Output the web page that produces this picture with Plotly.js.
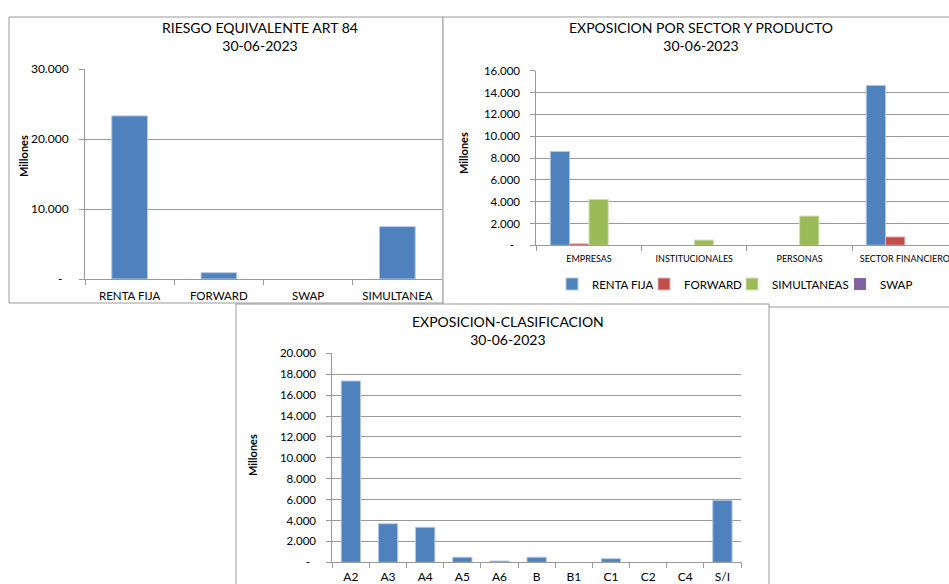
<!DOCTYPE html>
<html>
<head>
<meta charset="utf-8">
<script src="https://cdn.plot.ly/plotly-3.0.1.min.js"></script>
<style>html,body{margin:0;padding:0;background:#fff;overflow:hidden;}#chart{width:949px;height:584px;overflow:hidden;}</style>
</head>
<body>
<div id="chart"></div>
<script>
// ---- Chart 1: RIESGO EQUIVALENTE ART 84 ----
const riesgoCategories = ['RENTA FIJA', 'FORWARD', 'SWAP', 'SIMULTANEA'];
const riesgoValues = [23300, 900, 0, 7480];
const riesgoTickVals = [0, 10000, 20000, 30000];
const riesgoTickText = ['-\u00a0\u00a0', '10.000', '20.000', '30.000'];

// ---- Chart 2: EXPOSICION POR SECTOR Y PRODUCTO ----
const sectorCategories = ['EMPRESAS', 'INSTITUCIONALES', 'PERSONAS', 'SECTOR FINANCIERO'];
const sectorSeriesNames = ['RENTA FIJA', 'FORWARD', 'SIMULTANEAS', 'SWAP'];
const sectorRentaFija = [8600, 0, 0, 14650];
const sectorForward = [140, 0, 0, 770];
const sectorSimultaneas = [4210, 480, 2680, 0];
const sectorSwap = [0, 0, 0, 0];
const sectorTickVals = [0, 2000, 4000, 6000, 8000, 10000, 12000, 14000, 16000];
const sectorTickText = ['-\u00a0\u00a0', '2.000', '4.000', '6.000', '8.000', '10.000', '12.000', '14.000', '16.000'];

// ---- Chart 3: EXPOSICION-CLASIFICACION ----
const clasifCategories = ['A2', 'A3', 'A4', 'A5', 'A6', 'B', 'B1', 'C1', 'C2', 'C4', 'S/I'];
const clasifValues = [17350, 3690, 3350, 480, 120, 480, 0, 345, 0, 0, 5930];
const clasifTickVals = [0, 2000, 4000, 6000, 8000, 10000, 12000, 14000, 16000, 18000, 20000];
const clasifTickText = ['-\u00a0\u00a0', '2.000', '4.000', '6.000', '8.000', '10.000', '12.000', '14.000', '16.000', '18.000', '20.000'];

const W = 949, H = 584;
const px = x => x / W;
const py = y => 1 - y / H;

const FONT = 'Lato, "Open Sans", sans-serif';
const GRID = '#999999';
const BLUE = '#4F81BD', RED = '#C0504D', GREEN = '#9BBB59', PURPLE = '#8064A2';
const EDGE = {BLUE: '#b3c8e4', RED: '#e4b6b5', GREEN: '#d3e2b8', PURPLE: '#c6b9d8'};

// thin light edge only on bars that have a height
const edgeWidths = vals => vals.map(v => (v > 0 ? 1 : 0));

const sectorData = [sectorRentaFija, sectorForward, sectorSimultaneas, sectorSwap];
const sectorColors = [BLUE, RED, GREEN, PURPLE];
const sectorEdges = [EDGE.BLUE, EDGE.RED, EDGE.GREEN, EDGE.PURPLE];
const legendIds = ['legend', 'legend2', 'legend3', 'legend4'];

const traces = [
  {type: 'bar', x: riesgoCategories, y: riesgoValues, xaxis: 'x', yaxis: 'y',
   marker: {color: BLUE, line: {color: EDGE.BLUE, width: edgeWidths(riesgoValues)}},
   width: 0.4, showlegend: false, name: 'RIESGO'}
];
sectorData.forEach((vals, i) => {
  traces.push({type: 'bar', x: sectorCategories, y: vals, xaxis: 'x2', yaxis: 'y2',
    marker: {color: sectorColors[i], line: {color: sectorEdges[i], width: edgeWidths(vals)}},
    name: sectorSeriesNames[i], legend: legendIds[i], showlegend: true});
});
traces.push({type: 'bar', x: clasifCategories, y: clasifValues, xaxis: 'x3', yaxis: 'y3',
   marker: {color: BLUE, line: {color: EDGE.BLUE, width: edgeWidths(clasifValues)}},
   width: 0.52, showlegend: false, name: 'CLASIFICACION'});

function xAxis(domain, size, anchor, standoff, range) {
  const a = {domain: domain, anchor: anchor, type: 'category', showline: true, linecolor: GRID,
    linewidth: 1, ticks: 'outside', tickson: 'boundaries', ticklen: 5, tickcolor: GRID,
    showgrid: false, zeroline: false, fixedrange: true, tickangle: 0, automargin: false,
    ticklabelstandoff: standoff,
    tickfont: {family: FONT, size: size, color: '#000'}};
  if (range) a.range = range;
  return a;
}
function yAxis(domain, anchor, max, vals, text, size) {
  return {domain: domain, anchor: anchor, range: [0, max], showline: true, linecolor: GRID,
    linewidth: 1, ticks: 'outside', ticklen: 5, tickcolor: GRID, showgrid: true,
    gridcolor: GRID, gridwidth: 1, zeroline: false, tickvals: vals, ticktext: text,
    ticklabelstandoff: 8, fixedrange: true, automargin: false,
    tickfont: {family: FONT, size: size, color: '#000'}};
}

const titleFont = {family: FONT, size: 14, color: '#000'};
const ytFont = {family: FONT, size: 11, color: '#000', weight: 'bold'};

// legend symbol centres (px) in the reference
const legendSymbolX = [572, 664, 752, 860];
function legendAt(xSym) {
  return {orientation: 'h', x: px(xSym - 20), y: py(284), xanchor: 'left', yanchor: 'middle',
    font: {family: FONT, size: 11.5, color: '#000'}, bgcolor: 'rgba(0,0,0,0)',
    itemclick: false, itemdoubleclick: false, itemwidth: 30};
}

const layout = {
  width: W, height: H, autosize: false,
  margin: {l: 0, r: 0, t: 0, b: 0, pad: 0, autoexpand: false},
  paper_bgcolor: '#fff', plot_bgcolor: 'rgba(0,0,0,0)',
  barmode: 'group', bargap: 0.266, bargroupgap: 0,
  xaxis: xAxis([px(85), px(442)], 11.5, 'y', 6),
  yaxis: yAxis([py(279), py(69)], 'x', 30000, riesgoTickVals, riesgoTickText, 12),
  xaxis2: xAxis([px(536.3), 1], 9, 'y2', 5, [-0.5, 3.419]),
  yaxis2: yAxis([py(245.3), py(70.7)], 'x2', 16000, sectorTickVals, sectorTickText, 11.5),
  xaxis3: xAxis([px(332.3), px(741)], 12, 'y3', 3),
  yaxis3: yAxis([py(562.3), py(353.3)], 'x3', 20000, clasifTickVals, clasifTickText, 11.5),
  showlegend: true,
  legend: legendAt(legendSymbolX[0]),
  legend2: legendAt(legendSymbolX[1]),
  legend3: legendAt(legendSymbolX[2]),
  legend4: legendAt(legendSymbolX[3]),
  shapes: [
    {type: 'rect', xref: 'paper', yref: 'paper', x0: px(9), x1: px(443), y0: py(303), y1: py(17),
     line: {color: '#9a9a9a', width: 1}, fillcolor: '#fff', layer: 'below'},
    {type: 'rect', xref: 'paper', yref: 'paper', x0: px(443), x1: px(965), y0: py(307), y1: py(17),
     line: {color: '#9a9a9a', width: 1}, fillcolor: '#fff', layer: 'below'},
    {type: 'rect', xref: 'paper', yref: 'paper', x0: px(236), x1: px(769), y0: py(600), y1: py(304),
     line: {color: '#9a9a9a', width: 1}, fillcolor: '#fff', layer: 'below'}
  ],
  annotations: [
    {text: 'RIESGO EQUIVALENTE ART 84<br>30-06-2023', xref: 'paper', yref: 'paper',
     x: px(260), y: py(37), xanchor: 'center', yanchor: 'middle', showarrow: false, font: titleFont},
    {text: 'EXPOSICION POR SECTOR Y PRODUCTO<br>30-06-2023', xref: 'paper', yref: 'paper',
     x: px(701), y: py(37), xanchor: 'center', yanchor: 'middle', showarrow: false, font: titleFont},
    {text: 'EXPOSICION-CLASIFICACION<br>30-06-2023', xref: 'paper', yref: 'paper',
     x: px(508), y: py(330), xanchor: 'center', yanchor: 'middle', showarrow: false, font: titleFont},
    {text: 'Millones', xref: 'paper', yref: 'paper', x: px(24), y: py(156), textangle: -90,
     xanchor: 'center', yanchor: 'middle', showarrow: false, font: ytFont},
    {text: 'Millones', xref: 'paper', yref: 'paper', x: px(463), y: py(153), textangle: -90,
     xanchor: 'center', yanchor: 'middle', showarrow: false, font: ytFont},
    {text: 'Millones', xref: 'paper', yref: 'paper', x: px(253), y: py(455), textangle: -90,
     xanchor: 'center', yanchor: 'middle', showarrow: false, font: ytFont}
  ]
};

Plotly.newPlot('chart', traces, layout, {displayModeBar: false, staticPlot: true});
</script>
</body>
</html>
